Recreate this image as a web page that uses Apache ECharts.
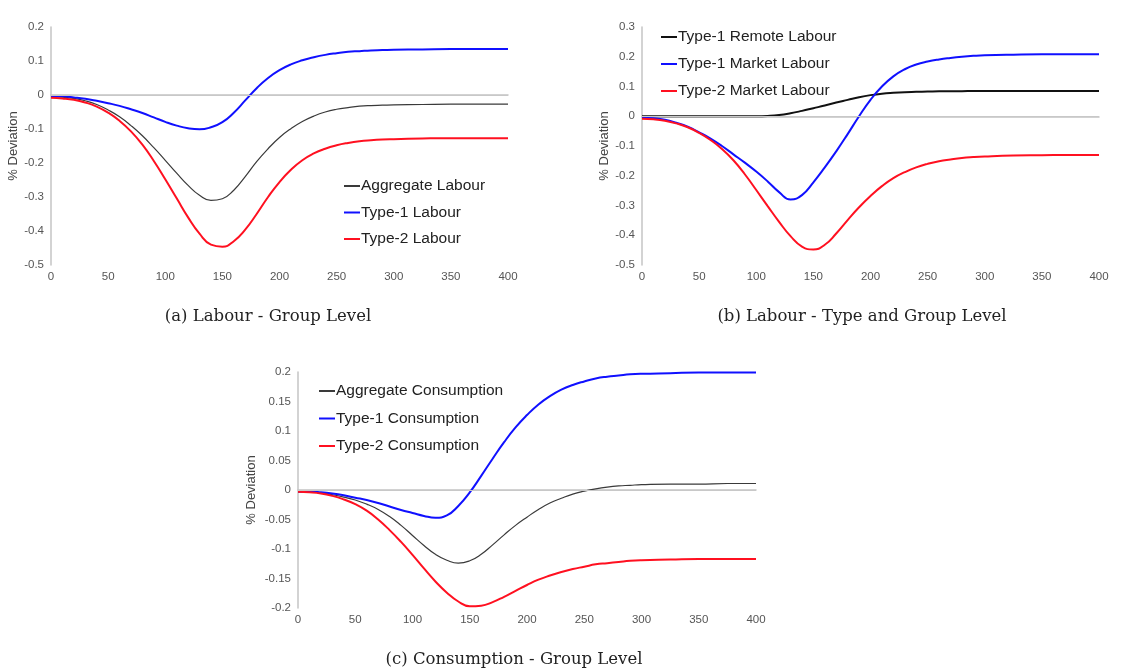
<!DOCTYPE html>
<html>
<head>
<meta charset="utf-8">
<script src="https://cdn.jsdelivr.net/npm/echarts@6/dist/echarts.min.js"></script>
<style>
  html, body { margin: 0; padding: 0; background: #fff; }
  #chart { width: 1123px; height: 669px; }
</style>
</head>
<body>
<div id="chart"></div>
<script>
// Periods (horizontal axis sample points)
const periods = [0,10,20,30,40,50,60,70,80,90,100,110,120,130,140,150,160,170,180,190,200,210,220,230,240,250,260,270,280,290,300,325,350,375,400];

// (a) Labour - Group Level
const aggLabour   = [-0.005,-0.006,-0.010,-0.017,-0.028,-0.044,-0.064,-0.090,-0.120,-0.155,-0.192,-0.230,-0.266,-0.295,-0.310,-0.305,-0.280,-0.240,-0.196,-0.158,-0.125,-0.099,-0.078,-0.062,-0.050,-0.042,-0.037,-0.033,-0.031,-0.030,-0.029,-0.028,-0.027,-0.027,-0.027];
const t1Labour    = [-0.003,-0.004,-0.007,-0.011,-0.017,-0.024,-0.032,-0.042,-0.053,-0.066,-0.079,-0.090,-0.098,-0.101,-0.095,-0.080,-0.052,-0.016,0.020,0.050,0.073,0.090,0.102,0.111,0.118,0.123,0.127,0.129,0.131,0.132,0.133,0.134,0.135,0.135,0.135];
const t2Labour    = [-0.008,-0.010,-0.014,-0.022,-0.034,-0.052,-0.076,-0.107,-0.146,-0.194,-0.248,-0.304,-0.360,-0.408,-0.440,-0.446,-0.430,-0.396,-0.350,-0.300,-0.256,-0.220,-0.192,-0.172,-0.158,-0.148,-0.141,-0.136,-0.133,-0.131,-0.130,-0.128,-0.127,-0.127,-0.127];

// (b) Labour - Type and Group Level
const t1Remote    = [0.000,0.000,0.000,0.000,0.000,0.000,0.000,0.000,0.000,0.000,0.000,0.001,0.004,0.010,0.018,0.027,0.036,0.046,0.055,0.064,0.071,0.076,0.079,0.081,0.082,0.083,0.084,0.084,0.084,0.085,0.085,0.085,0.085,0.085,0.085];
const t1Market    = [-0.005,-0.007,-0.012,-0.022,-0.035,-0.054,-0.075,-0.100,-0.128,-0.156,-0.186,-0.219,-0.255,-0.280,-0.265,-0.222,-0.172,-0.118,-0.060,0.000,0.055,0.100,0.134,0.158,0.174,0.184,0.191,0.196,0.200,0.203,0.205,0.207,0.208,0.208,0.208];
const t2Market    = [-0.008,-0.010,-0.015,-0.024,-0.037,-0.056,-0.080,-0.110,-0.148,-0.195,-0.248,-0.302,-0.355,-0.403,-0.438,-0.448,-0.432,-0.394,-0.349,-0.306,-0.268,-0.235,-0.208,-0.188,-0.172,-0.160,-0.151,-0.145,-0.140,-0.137,-0.135,-0.132,-0.131,-0.130,-0.130];

// (c) Consumption - Group Level
const aggCons     = [-0.003,-0.003,-0.005,-0.008,-0.012,-0.017,-0.024,-0.033,-0.045,-0.060,-0.077,-0.094,-0.109,-0.119,-0.124,-0.120,-0.109,-0.093,-0.076,-0.060,-0.046,-0.033,-0.022,-0.014,-0.007,-0.002,0.002,0.005,0.007,0.008,0.009,0.010,0.010,0.011,0.011];
const t1Cons      = [-0.003,-0.003,-0.004,-0.006,-0.009,-0.013,-0.017,-0.022,-0.028,-0.034,-0.039,-0.044,-0.047,-0.043,-0.027,-0.004,0.024,0.053,0.081,0.106,0.127,0.145,0.159,0.170,0.178,0.184,0.189,0.192,0.194,0.196,0.197,0.198,0.199,0.199,0.199];
const t2Cons      = [-0.003,-0.004,-0.006,-0.010,-0.016,-0.024,-0.035,-0.050,-0.068,-0.088,-0.110,-0.133,-0.155,-0.174,-0.189,-0.197,-0.196,-0.190,-0.181,-0.171,-0.161,-0.152,-0.145,-0.139,-0.134,-0.130,-0.126,-0.124,-0.122,-0.120,-0.119,-0.118,-0.117,-0.117,-0.117];

// Axis tick settings
const xTicks = { min: 0, max: 400, interval: 50 };
const yTicksA = { min: -0.5, max: 0.2, interval: 0.1 };
const yTicksB = { min: -0.5, max: 0.3, interval: 0.1 };
const yTicksC = { min: -0.2, max: 0.2, interval: 0.05 };

const FONT = '"Liberation Sans", Arial, sans-serif';
const SERIF = '"DejaVu Serif", "Liberation Serif", serif';
const AXIS_COLOR = '#c4c4c4';
const LABEL_COLOR = '#555';

const pairs = ys => periods.map((x, i) => [x, ys[i]]);

function xAxis(gridIndex) {
  return {
    type: 'value', gridIndex, min: xTicks.min, max: xTicks.max, interval: xTicks.interval,
    axisLine: { show: true, lineStyle: { color: AXIS_COLOR, width: 1.5 } },
    axisTick: { show: false },
    splitLine: { show: false },
    axisLabel: { color: LABEL_COLOR, fontSize: 11.5, fontFamily: FONT, margin: 6 }
  };
}
function yAxis(gridIndex, t, nameGap) {
  return {
    type: 'value', gridIndex, min: t.min, max: t.max, interval: t.interval,
    name: '% Deviation', nameLocation: 'middle', nameGap, nameRotate: 90,
    nameTextStyle: { color: '#444', fontSize: 13, fontFamily: FONT },
    axisLine: { show: true, onZero: false, lineStyle: { color: AXIS_COLOR, width: 1.5 } },
    axisTick: { show: false },
    splitLine: { show: false },
    axisLabel: { color: LABEL_COLOR, fontSize: 11.5, fontFamily: FONT, margin: 7 }
  };
}
const zeroLine = {
  silent: true, symbol: 'none', label: { show: false },
  lineStyle: { color: '#c8c8c8', width: 1, type: 'solid' },
  data: [{ yAxis: 0 }]
};
function line(name, data, idx, color, width, withZero) {
  const s = {
    name, type: 'line', xAxisIndex: idx, yAxisIndex: idx, data: pairs(data),
    smooth: true, showSymbol: false, symbol: 'none',
    lineStyle: { color, width }, itemStyle: { color }, z: 3
  };
  if (withZero) s.markLine = zeroLine;
  return s;
}
function legend(names, left, top, gap) {
  return {
    data: names, left, top, orient: 'vertical', itemGap: gap,
    icon: 'rect', itemWidth: 16, itemHeight: 2,
    textStyle: { color: '#222', fontSize: 15.5, fontFamily: FONT, padding: [0, 0, 0, -4] },
    selectedMode: false
  };
}

const chart = echarts.init(document.getElementById('chart'), null, { renderer: 'canvas' });
chart.setOption({
  backgroundColor: '#fff',
  animation: false,
  grid: [
    { left: 51, top: 27, width: 457, height: 238 },
    { left: 642, top: 27, width: 457, height: 238 },
    { left: 298, top: 372, width: 458, height: 236 }
  ],
  xAxis: [xAxis(0), xAxis(1), xAxis(2)],
  yAxis: [yAxis(0, yTicksA, 31), yAxis(1, yTicksB, 31), yAxis(2, yTicksC, 40)],
  legend: [
    legend(['Aggregate Labour', 'Type-1 Labour', 'Type-2 Labour'], 339, 173, 10.5),
    legend(['Type-1 Remote Labour', 'Type-1 Market Labour', 'Type-2 Market Labour'], 656, 24, 11),
    legend(['Aggregate Consumption', 'Type-1 Consumption', 'Type-2 Consumption'], 314, 378, 11.5)
  ],
  title: [
    { text: '(a) Labour - Group Level', left: 263, top: 303, textAlign: 'center',
      textStyle: { fontFamily: SERIF, fontSize: 16.5, fontWeight: 'normal', color: '#222' } },
    { text: '(b) Labour - Type and Group Level', left: 857, top: 303, textAlign: 'center',
      textStyle: { fontFamily: SERIF, fontSize: 16.5, fontWeight: 'normal', color: '#222' } },
    { text: '(c) Consumption - Group Level', left: 509, top: 646, textAlign: 'center',
      textStyle: { fontFamily: SERIF, fontSize: 16.5, fontWeight: 'normal', color: '#222' } }
  ],
  series: [
    line('Aggregate Labour', aggLabour, 0, '#3a3a3a', 1.2, true),
    line('Type-1 Labour', t1Labour, 0, '#1010ff', 2),
    line('Type-2 Labour', t2Labour, 0, '#ff1020', 2),
    line('Type-1 Remote Labour', t1Remote, 1, '#111111', 2, true),
    line('Type-1 Market Labour', t1Market, 1, '#1010ff', 2),
    line('Type-2 Market Labour', t2Market, 1, '#ff1020', 2),
    line('Aggregate Consumption', aggCons, 2, '#3a3a3a', 1.2, true),
    line('Type-1 Consumption', t1Cons, 2, '#1010ff', 2),
    line('Type-2 Consumption', t2Cons, 2, '#ff1020', 2)
  ]
});
</script>
</body>
</html>
